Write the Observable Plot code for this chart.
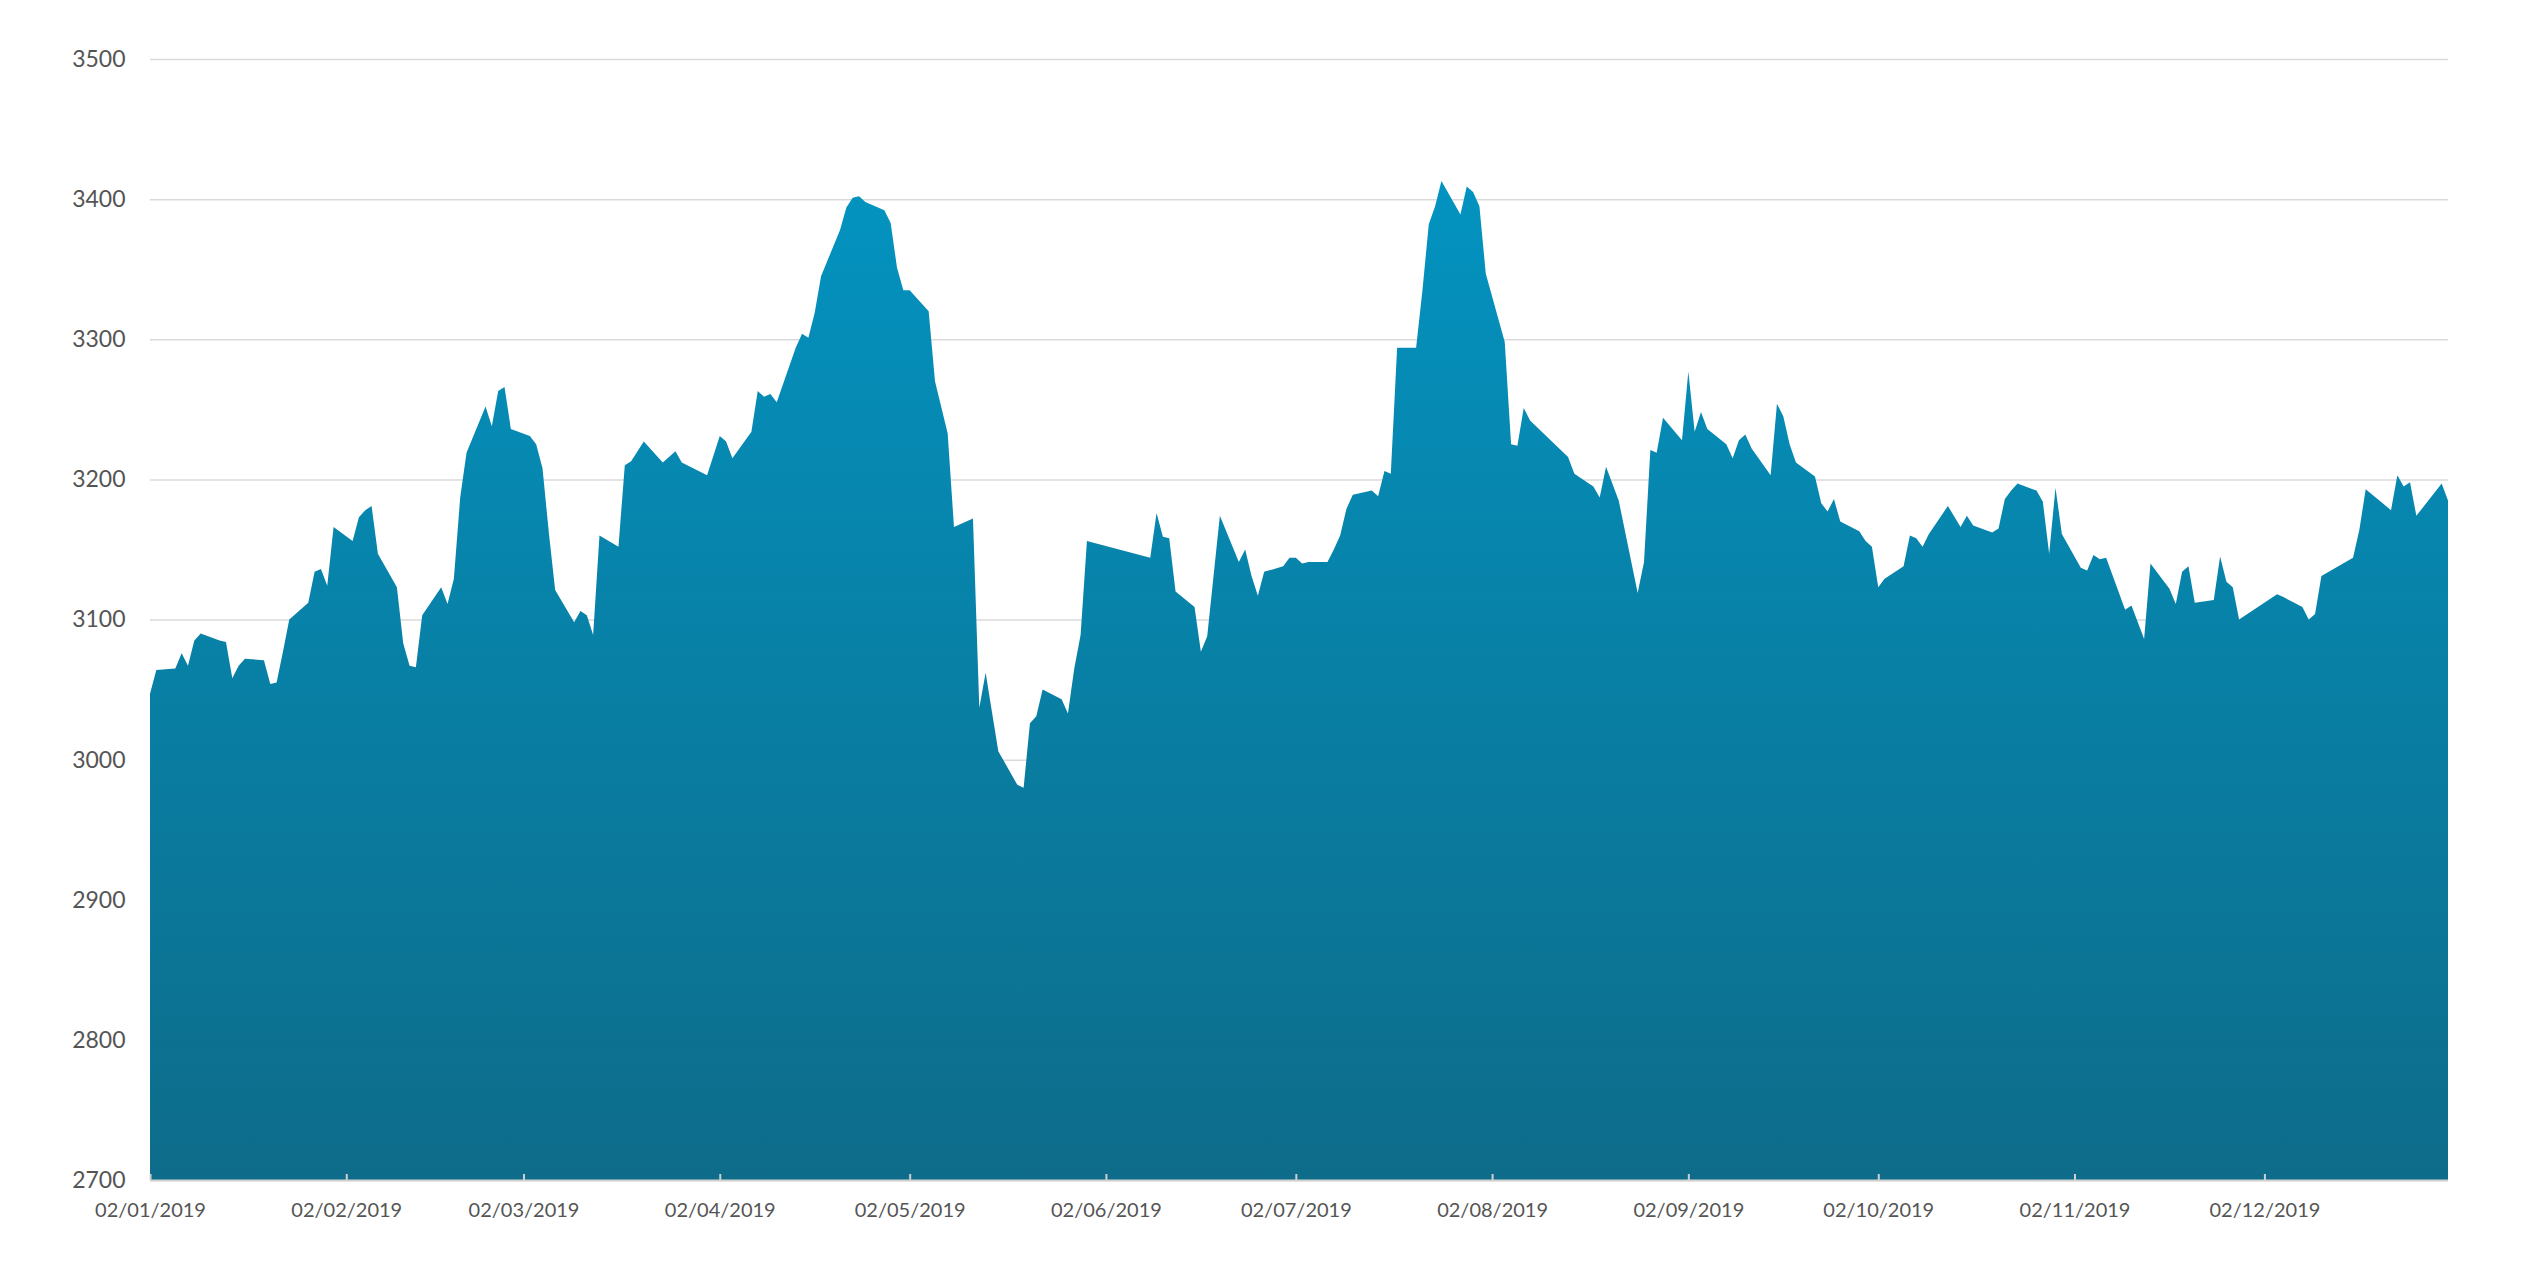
<!DOCTYPE html>
<html>
<head>
<meta charset="utf-8">
<script src="https://cdn.jsdelivr.net/npm/d3@7"></script>
<script src="https://cdn.jsdelivr.net/npm/@observablehq/plot@0.6"></script>
<style>
  html, body { margin: 0; padding: 0; background: #ffffff; }
  #chart svg { display: block; }
</style>
</head>
<body>
<div id="chart"></div>
<script>
// ---- data ----
const dates = [
  "2019-01-02","2019-01-03","2019-01-06","2019-01-07","2019-01-08","2019-01-09","2019-01-10","2019-01-13","2019-01-14","2019-01-15","2019-01-16","2019-01-17","2019-01-20","2019-01-21","2019-01-22","2019-01-23","2019-01-24","2019-01-27","2019-01-28","2019-01-29","2019-01-30","2019-01-31",
  "2019-02-03","2019-02-04","2019-02-05","2019-02-06","2019-02-07","2019-02-10","2019-02-11","2019-02-12","2019-02-13","2019-02-14","2019-02-17","2019-02-18","2019-02-19","2019-02-20","2019-02-21","2019-02-24","2019-02-25","2019-02-26","2019-02-27","2019-02-28",
  "2019-03-03","2019-03-04","2019-03-05","2019-03-06","2019-03-07","2019-03-10","2019-03-11","2019-03-12","2019-03-13","2019-03-14","2019-03-17","2019-03-18","2019-03-19","2019-03-21","2019-03-24","2019-03-26","2019-03-27","2019-03-31",
  "2019-04-02","2019-04-03","2019-04-04","2019-04-07","2019-04-08","2019-04-09","2019-04-10","2019-04-11","2019-04-14","2019-04-15","2019-04-16","2019-04-17","2019-04-18","2019-04-21","2019-04-22","2019-04-23","2019-04-24","2019-04-25","2019-04-28","2019-04-29","2019-04-30",
  "2019-05-01","2019-05-02","2019-05-05","2019-05-06","2019-05-08","2019-05-09","2019-05-12","2019-05-13","2019-05-14","2019-05-15","2019-05-16","2019-05-19","2019-05-20","2019-05-21","2019-05-22","2019-05-23","2019-05-26","2019-05-27","2019-05-28","2019-05-29","2019-05-30",
  "2019-06-09","2019-06-10","2019-06-11","2019-06-12","2019-06-13","2019-06-16","2019-06-17","2019-06-18","2019-06-19","2019-06-20","2019-06-23","2019-06-24","2019-06-25","2019-06-26","2019-06-27","2019-06-30",
  "2019-07-01","2019-07-02","2019-07-03","2019-07-04","2019-07-07","2019-07-08","2019-07-09","2019-07-10","2019-07-11","2019-07-14","2019-07-15","2019-07-16","2019-07-17","2019-07-18","2019-07-21","2019-07-22","2019-07-23","2019-07-24","2019-07-25","2019-07-28","2019-07-29","2019-07-30","2019-07-31",
  "2019-08-01","2019-08-04","2019-08-05","2019-08-06","2019-08-07","2019-08-08","2019-08-14","2019-08-15","2019-08-18","2019-08-19","2019-08-20","2019-08-22","2019-08-25","2019-08-26","2019-08-27","2019-08-28","2019-08-29",
  "2019-09-01","2019-09-02","2019-09-03","2019-09-04","2019-09-05","2019-09-08","2019-09-09","2019-09-10","2019-09-11","2019-09-12","2019-09-15","2019-09-16","2019-09-17","2019-09-18","2019-09-19","2019-09-22","2019-09-23","2019-09-24","2019-09-25","2019-09-26","2019-09-29","2019-09-30",
  "2019-10-01","2019-10-02","2019-10-03","2019-10-06","2019-10-07","2019-10-08","2019-10-09","2019-10-10","2019-10-13","2019-10-15","2019-10-16","2019-10-17","2019-10-20","2019-10-21","2019-10-22","2019-10-23","2019-10-24","2019-10-27","2019-10-28","2019-10-29","2019-10-30","2019-10-31",
  "2019-11-03","2019-11-04","2019-11-05","2019-11-06","2019-11-07","2019-11-10","2019-11-11","2019-11-13","2019-11-14","2019-11-17","2019-11-18","2019-11-19","2019-11-20","2019-11-21","2019-11-24","2019-11-25","2019-11-26","2019-11-27","2019-11-28",
  "2019-12-04","2019-12-05","2019-12-08","2019-12-09","2019-12-10","2019-12-11","2019-12-16","2019-12-17","2019-12-18","2019-12-22","2019-12-23","2019-12-24","2019-12-25","2019-12-26","2019-12-30","2019-12-31"
];
const values = [
  3047,3064,3065,3076,3067,3085,3090,3085,3084,3058,3067,3072,3071,3054,3055,3077,3100,3112,3134,3136,3124,3166,
  3156,3173,3178,3181,3147,3123,3083,3067,3066,3103,3123,3111,3129,3187,3219,3252,3238,3263,3266,3236,
  3231,3225,3208,3162,3121,3098,3106,3103,3089,3160,3152,3210,3213,3227,3212,3220,3212,3203,
  3231,3227,3215,3234,3263,3259,3261,3255,3294,3304,3301,3319,3345,3378,3394,3401,3402,3398,3392,3383,3351,
  3335,3335,3320,3270,3233,3166,3172,3037,3062,3034,3006,2982,2980,3026,3031,3050,3043,3033,3065,3089,3156,
  3144,3176,3159,3158,3120,3109,3077,3088,3131,3174,3141,3150,3131,3117,3134,3138,
  3144,3144,3140,3141,3141,3150,3160,3179,3189,3192,3188,3206,3204,3294,3294,3335,3382,3395,3413,3389,3409,3405,3395,
  3347,3298,3225,3224,3251,3242,3216,3204,3195,3187,3209,3185,3119,3141,3221,3219,3244,
  3228,3277,3234,3248,3236,3225,3215,3228,3232,3222,3203,3254,3245,3225,3212,3202,3183,3177,3186,3170,3163,3156,
  3152,3123,3129,3138,3160,3158,3152,3161,3181,3166,3174,3167,3162,3165,3186,3192,3197,3192,3184,3147,3194,3161,
  3137,3135,3146,3143,3144,3107,3110,3086,3140,3122,3111,3134,3138,3112,3114,3145,3127,3123,3100,
  3118,3116,3109,3100,3104,3131,3144,3164,3193,3178,3203,3195,3198,3174,3197,3185
];
const yTicks = [2700, 2800, 2900, 3000, 3100, 3200, 3300, 3400, 3500];
const xTickLabels = ["2019-01-02","2019-02-02","2019-03-02","2019-04-02","2019-05-02","2019-06-02","2019-07-02","2019-08-02","2019-09-02","2019-10-02","2019-11-02","2019-12-02"];
const xDomain = ["2019-01-02", "2019-12-31"];

// ---- build ----
const data = dates.map((d, i) => ({date: new Date(d), value: values[i]}));
const xTicks = xTickLabels.map(d => new Date(d));
const yMin = yTicks[0], yMax = yTicks[yTicks.length - 1];

const W = 2544, H = 1268;
const mL = 150, mR = 96, mT = 59, mB = 88;
const plotH = H - mT - mB;

function gradientDefs() {
  const defs = d3.create("svg:defs");
  const g = defs.append("linearGradient")
    .attr("id", "areaGrad")
    .attr("x1", 0).attr("y1", 0).attr("x2", 0).attr("y2", 1);
  g.append("stop").attr("offset", "0%").attr("stop-color", "#0393c0");
  g.append("stop").attr("offset", "100%").attr("stop-color", "#0e6c8a");
  return defs.node();
}

const chart = Plot.plot({
  width: W,
  height: H,
  marginLeft: mL,
  marginRight: mR,
  marginTop: mT,
  marginBottom: mB,
  style: {fontFamily: "Lato, 'Open Sans', sans-serif", background: "#ffffff", color: "#555555"},
  x: {type: "utc", domain: xDomain.map(d => new Date(d)), label: null},
  y: {domain: [yMin, yMax], label: null},
  marks: [
    gradientDefs,
    Plot.gridY(yTicks, {stroke: "#dadada", strokeOpacity: 1, strokeWidth: 1.5}),
    Plot.areaY(data, {x: "date", y1: yMin, y2: "value", fill: "url(#areaGrad)", curve: "linear"}),
    Plot.ruleY([yMin], {stroke: "#d2d2d2", strokeWidth: 2}),
    Plot.ruleX(xTicks, {stroke: "#cfcfcf", strokeWidth: 2, insetTop: plotH - 6}),
    Plot.axisY(yTicks, {tickSize: 0, tickPadding: 25, fontSize: 23, fill: "#555555", tickFormat: d3.format("d")}),
    Plot.axisX(xTicks, {tickSize: 0, tickPadding: 22, fontSize: 20, fill: "#555555", tickFormat: d3.utcFormat("%d/%m/%Y")})
  ]
});
document.getElementById("chart").appendChild(chart);
</script>
</body>
</html>
